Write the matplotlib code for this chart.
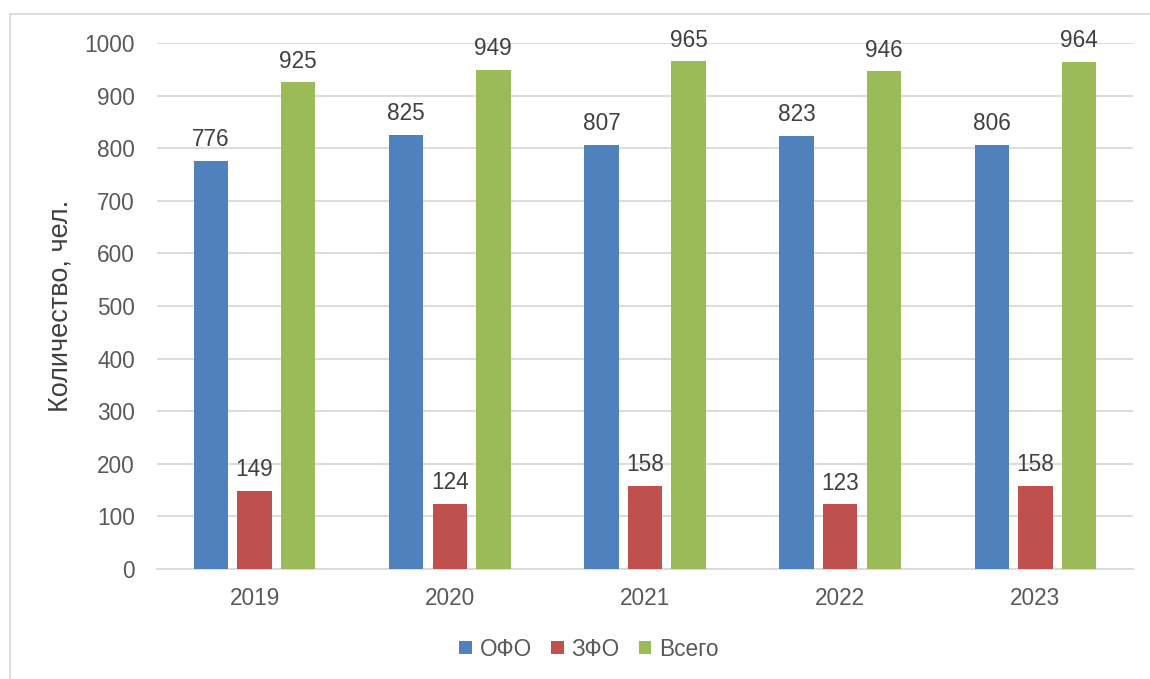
import matplotlib
matplotlib.use("Agg")
import matplotlib.pyplot as plt
import numpy as np
from matplotlib.lines import Line2D

plt.rcParams['font.family'] = ['Liberation Sans', 'DejaVu Sans']

years = ["2019", "2020", "2021", "2022", "2023"]
series_names = ["ОФО", "ЗФО", "Всего"]
ofo = [776, 825, 807, 823, 806]
zfo = [149, 124, 158, 123, 158]
total = [925, 949, 965, 946, 964]
colors = ["#4F81BD", "#C0504D", "#9BBB59"]

FS = 16.3

fig = plt.figure(figsize=(11.5, 6.79), dpi=100)
ax = fig.add_axes([157/1150, 1-569/679, (1133-157)/1150, (569-43)/679])

x = np.arange(len(years))
w = 0.176
step = 0.223
for i, (vals, c, name) in enumerate(zip([ofo, zfo, total], colors, series_names)):
    bars = ax.bar(x + (i-1)*step, vals, width=w, color=c, label=name, zorder=3)
    for b, v in zip(bars, vals):
        ax.annotate(str(v), (b.get_x()+b.get_width()/2, v), xytext=(0, 7),
                    textcoords="offset points", ha="center", va="bottom",
                    fontsize=FS, color="#404040")

ax.set_xlim(-0.5, len(years)-0.5)
ax.set_ylim(0, 1000)
ax.set_yticks(range(0, 1001, 100))
ax.set_xticks(x)
ax.set_xticklabels(years)
ax.yaxis.grid(True, color="#D9D9D9", linewidth=1.3, zorder=0)
for s in ["top", "right", "left"]:
    ax.spines[s].set_visible(False)
ax.spines["bottom"].set_color("#D9D9D9")
ax.spines["bottom"].set_linewidth(1.3)
ax.tick_params(axis="both", length=0, labelsize=FS, labelcolor="#595959")
ax.tick_params(axis="y", pad=16)
ax.tick_params(axis="x", pad=13)
ax.set_ylabel("Количество, чел.", fontsize=19.5, color="#404040", labelpad=8)

leg = fig.legend(loc="center", bbox_to_anchor=(589/1150, 1-649/679), ncol=3,
                 frameon=False, fontsize=FS, handlelength=0.55, handleheight=0.55,
                 handletextpad=0.35, columnspacing=0.85)
for t in leg.get_texts():
    t.set_color("#595959")

# outer chart border
fig.add_artist(Line2D([10/1150, 10/1150], [0, 1-14/679], transform=fig.transFigure, color="#D9D9D9", lw=1.3))
fig.add_artist(Line2D([10/1150, 1], [1-14/679, 1-14/679], transform=fig.transFigure, color="#D9D9D9", lw=1.3))

fig.savefig("out.png", dpi=100)
